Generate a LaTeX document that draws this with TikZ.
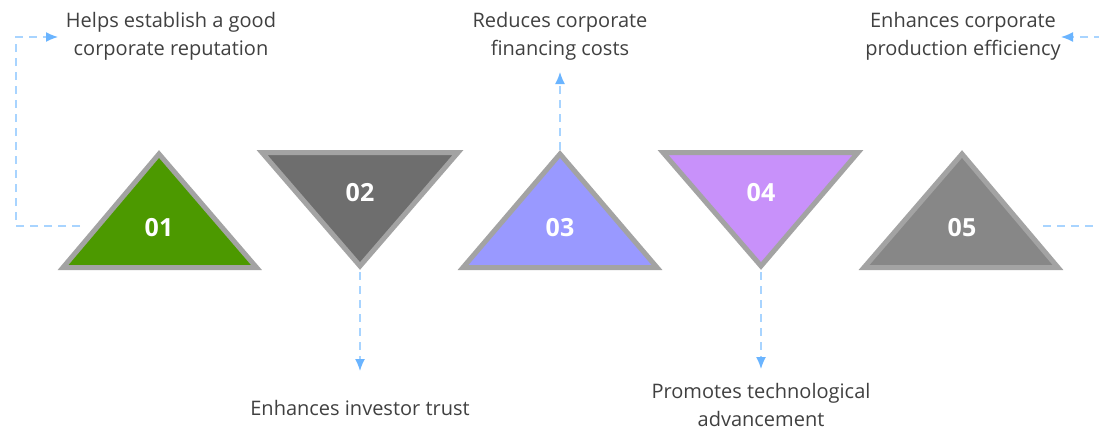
\documentclass[tikz,border=0pt]{standalone}
\usepackage{fontspec}
\setmainfont{Open Sans}
\usetikzlibrary{arrows.meta}
\definecolor{txt}{HTML}{404040}
\definecolor{conn}{HTML}{A8D4FF}
\definecolor{tip}{HTML}{6AB4FF}
\definecolor{bord}{HTML}{A3A3A3}
\definecolor{cA}{HTML}{4C9900}
\definecolor{cB}{HTML}{6E6E6E}
\definecolor{cC}{HTML}{9999FF}
\definecolor{cD}{HTML}{C891FA}
\definecolor{cE}{HTML}{878787}
\tikzset{
  tri/.style={draw=bord, line width=5pt, line join=miter},
  num/.style={text=white, font=\fontsize{25}{30}\selectfont\bfseries},
  lbl/.style={text=txt, font=\fontsize{20}{28}\selectfont, align=center, inner sep=0pt},
  conn/.style={draw=conn, line width=1.4pt, dash pattern=on 8pt off 6pt,
    -{Latex[length=12pt,width=10pt,color=tip]}},
}
\begin{document}
\begin{tikzpicture}[x=1pt,y=-1pt]
\useasboundingbox (0,0) rectangle (1099,429);
\clip (0,0) rectangle (1099,429);
% triangles
\draw[tri, fill=cA] (159,154) -- (262.5-6,267.5) -- (57+6,267.5) -- cycle;
\draw[tri, fill=cB] (256+6,152.5) -- (464-6,152.5) -- (360,266) -- cycle;
\draw[tri, fill=cC] (560,154) -- (663-6,267.5) -- (457+6,267.5) -- cycle;
\draw[tri, fill=cD] (657+6,152.5) -- (864-6,152.5) -- (761,266) -- cycle;
\draw[tri, fill=cE] (962,154) -- (1064-6,267.5) -- (858+6,267.5) -- cycle;
\node[num] (n1) at (159,228) {01};
\node[num] (n2) at (360,193) {02};
\node[num] (n3) at (560,228) {03};
\node[num] (n4) at (761,193) {04};
\node[num] (n5) at (962,228) {05};
% labels
\node[lbl] (t1) at (171,36) {Helps establish a good\\corporate reputation};
\node[lbl] (t2) at (360,408) {Enhances investor trust};
\node[lbl] (t3) at (560,36) {Reduces corporate\\financing costs};
\node[lbl] (t4) at (761,405) {Promotes technological\\advancement};
\node[lbl] (t5) at (963,36) {Enhances corporate\\production efficiency};
% connector anchor points
\coordinate (s1) at (80,226);
\coordinate (e1) at (58,37);
\coordinate (a2) at (360,272);
\coordinate (e2) at (360,371);
\coordinate (a3) at (560,150);
\coordinate (e3) at (560,72);
\coordinate (a4) at (761,272);
\coordinate (e4) at (761,369);
\coordinate (s5) at (1043,226);
\coordinate (e5) at (1061,37);
% connectors
\draw[conn] (s1) -- (16,226) -- (16,37) -- (e1);
\draw[conn] (a2) -- (e2);
\draw[conn] (a3) -- (e3);
\draw[conn] (a4) -- (e4);
\draw[conn] (s5) -- (1104,226) -- (1104,37) -- (e5);
\end{tikzpicture}
\end{document}
